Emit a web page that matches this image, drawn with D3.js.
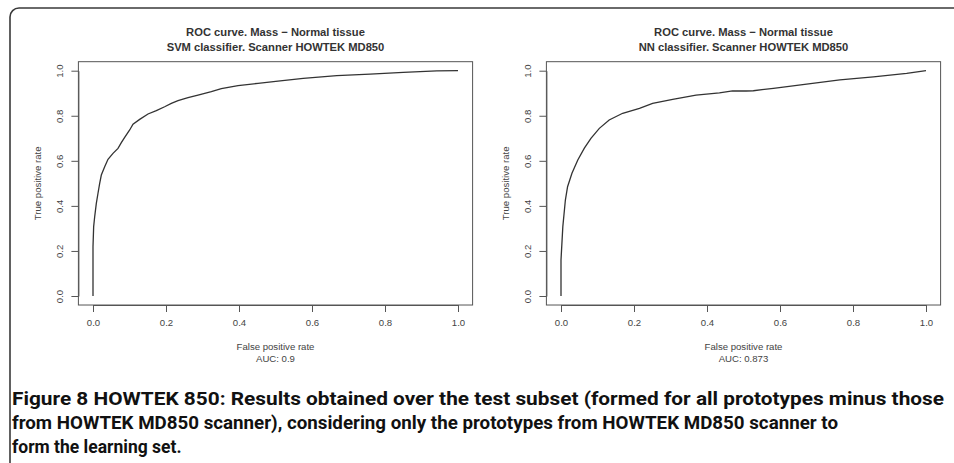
<!DOCTYPE html>
<html><head><meta charset="utf-8">
<script src="https://cdn.jsdelivr.net/npm/d3@7"></script>
<style>
html,body{margin:0;padding:0;background:#fff;}
svg{display:block;}
</style></head>
<body>
<svg id="chart" width="954" height="463"></svg>
<script>
// ---- data ----
const xTicks = [0, 0.2, 0.4, 0.6, 0.8, 1.0];
const yTicks = [0, 0.2, 0.4, 0.6, 0.8, 1.0];
const tickLabels = ["0.0", "0.2", "0.4", "0.6", "0.8", "1.0"];

const svmFPR = [0, 0, 0.0018, 0.0046, 0.0091, 0.0137, 0.0183, 0.0228, 0.032, 0.0411, 0.0548, 0.0685, 0.0776, 0.0868, 0.1005, 0.1096, 0.1279, 0.1507, 0.1735, 0.1963, 0.2146, 0.2329, 0.2603, 0.2877, 0.3242, 0.3516, 0.3973, 0.4521, 0.5068, 0.576, 0.668, 0.759, 0.85, 0.942, 1.0];
const svmTPR = [0, 0.219, 0.308, 0.352, 0.411, 0.456, 0.500, 0.537, 0.574, 0.607, 0.633, 0.655, 0.681, 0.704, 0.737, 0.763, 0.784, 0.808, 0.823, 0.840, 0.855, 0.867, 0.880, 0.892, 0.907, 0.920, 0.934, 0.944, 0.954, 0.966, 0.978, 0.985, 0.993, 0.999, 1.0];

const nnFPR = [0, 0, 0.005, 0.012, 0.018, 0.030, 0.046, 0.064, 0.082, 0.105, 0.132, 0.169, 0.215, 0.251, 0.306, 0.37, 0.434, 0.47, 0.507, 0.527, 0.582, 0.673, 0.764, 0.856, 0.947, 1.0];
const nnTPR = [0, 0.16, 0.308, 0.426, 0.485, 0.545, 0.604, 0.656, 0.70, 0.744, 0.781, 0.811, 0.833, 0.855, 0.873, 0.892, 0.902, 0.91, 0.91, 0.911, 0.922, 0.94, 0.959, 0.973, 0.988, 1.0];

const titles1 = ["ROC curve. Mass \u2212 Normal tissue", "ROC curve. Mass \u2212 Normal tissue"];
const titles2 = ["SVM classifier. Scanner HOWTEK MD850", "NN classifier. Scanner HOWTEK MD850"];
const aucLabels = ["AUC: 0.9", "AUC: 0.873"];
const xLabel = "False positive rate";
const yLabel = "True positive rate";
const captionLines = [
  "Figure 8 HOWTEK 850: Results obtained over the test subset (formed for all prototypes minus those",
  "from HOWTEK MD850 scanner), considering only the prototypes from HOWTEK MD850 scanner to",
  "form the learning set."
];

// ---- drawing ----
const svg = d3.select("#chart");
const font = "'Liberation Sans', Arial, Helvetica, sans-serif";

// figure frame (rounded, clipped by window)
svg.append("rect").attr("x", 10).attr("y", 8).attr("width", 1100).attr("height", 800)
  .attr("rx", 9).attr("fill", "none").attr("stroke", "#3a3a3a").attr("stroke-width", 1.6);

const panels = [
  {x0: 93, fpr: svmFPR, tpr: svmTPR},
  {x0: 561, fpr: nnFPR, tpr: nnTPR}
];

panels.forEach((p, i) => {
  const x = d3.scaleLinear().domain([0, 1]).range([p.x0, p.x0 + 365]);
  const y = d3.scaleLinear().domain([0, 1]).range([296, 70.7]);
  const g = svg.append("g");

  const bx0 = x(-0.04), bx1 = x(1.04), by0 = y(1.04), by1 = y(-0.04);

  // curve
  const line = d3.line().x(d => x(d[0])).y(d => y(d[1]));
  g.append("path").datum(p.fpr.map((v, k) => [v, p.tpr[k]]))
    .attr("d", line).attr("fill", "none").attr("stroke", "#333").attr("stroke-width", 1.3);

  // box
  g.append("rect").attr("x", bx0).attr("y", by0).attr("width", bx1 - bx0).attr("height", by1 - by0)
    .attr("fill", "none").attr("stroke", "#555").attr("stroke-width", 1);

  // x axis
  const xa = g.append("g").attr("transform", `translate(0,${by1})`)
    .call(d3.axisBottom(x).tickValues(xTicks).tickFormat((d, k) => tickLabels[k]).tickSize(7).tickSizeOuter(0).tickPadding(7));
  xa.select(".domain").attr("stroke", "#555");
  xa.selectAll(".tick line").attr("stroke", "#555");
  xa.selectAll("text").attr("font-family", font).attr("font-size", 9.6).attr("fill", "#444");

  // y axis
  const ya = g.append("g").attr("transform", `translate(${bx0},0)`)
    .call(d3.axisLeft(y).tickValues(yTicks).tickFormat((d, k) => tickLabels[k]).tickSize(7).tickSizeOuter(0));
  ya.select(".domain").attr("stroke", "#555");
  ya.selectAll(".tick line").attr("stroke", "#555");
  ya.selectAll("text").attr("x", null).attr("dy", "0.35em")
    .attr("transform", "translate(-18.4,0) rotate(-90)").attr("text-anchor", "middle")
    .attr("font-family", font).attr("font-size", 9.6).attr("fill", "#444");

  const cx = (bx0 + bx1) / 2;
  // titles
  g.append("text").attr("x", cx).attr("y", 35.5).attr("text-anchor", "middle")
    .attr("font-family", font).attr("font-weight", "bold").attr("font-size", 11.2).attr("fill", "#333").text(titles1[i]);
  g.append("text").attr("x", cx).attr("y", 50.5).attr("text-anchor", "middle")
    .attr("font-family", font).attr("font-weight", "bold").attr("font-size", 11.2).attr("fill", "#333").text(titles2[i]);
  // x labels
  g.append("text").attr("x", cx).attr("y", 350).attr("text-anchor", "middle")
    .attr("font-family", font).attr("font-size", 9.6).attr("fill", "#444").text(xLabel);
  g.append("text").attr("x", cx).attr("y", 361.5).attr("text-anchor", "middle")
    .attr("font-family", font).attr("font-size", 9.6).attr("fill", "#444").text(aucLabels[i]);
  // y label
  g.append("text").attr("transform", `translate(${bx0 - 41},${(by0 + by1) / 2}) rotate(-90)`)
    .attr("dy", "0.35em").attr("text-anchor", "middle")
    .attr("font-family", font).attr("font-size", 9.6).attr("fill", "#444").text(yLabel);
});

// caption
const capWidths = [932, 826, null];
captionLines.forEach((t, k) => {
  const tx = svg.append("text").attr("x", 12).attr("y", 405 + k * 24)
    .attr("font-family", "Roboto, 'Open Sans', sans-serif").attr("font-weight", "bold")
    .attr("font-size", 17.5).attr("fill", "#111")
    .text(t);
  if (capWidths[k]) tx.attr("textLength", capWidths[k]).attr("lengthAdjust", "spacingAndGlyphs");
});
</script>
</body></html>
